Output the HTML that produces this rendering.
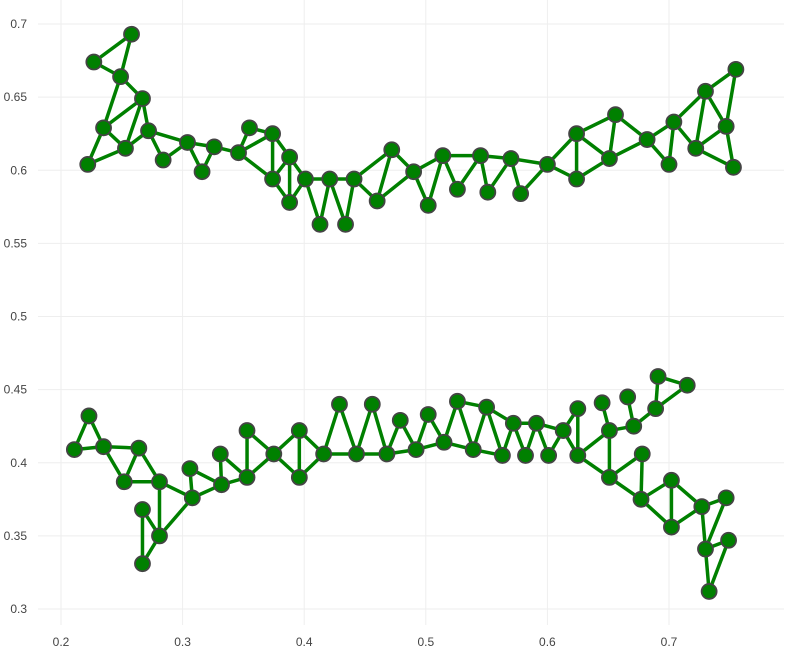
<!DOCTYPE html>
<html><head><meta charset="utf-8"><style>
html,body{margin:0;padding:0;background:#fff;}
svg{display:block;font-family:"Liberation Sans",sans-serif;}
</style></head><body>
<svg id="chart" width="788" height="651" viewBox="0 0 788 651" xmlns="http://www.w3.org/2000/svg">
<g id="grid"></g>
<g id="edges"></g>
<g id="nodes"></g>
<g id="ticks"></g>
</svg>
<script>
const xTicks = [0.2, 0.3, 0.4, 0.5, 0.6, 0.7];
const yTicks = [0.3, 0.35, 0.4, 0.45, 0.5, 0.55, 0.6, 0.65, 0.7];
const xTickLabels = ["0.2","0.3","0.4","0.5","0.6","0.7"];
const yTickLabels = ["0.3","0.35","0.4","0.45","0.5","0.55","0.6","0.65","0.7"];
const upperX = [.227,.258,.249,.267,.235,.253,.272,.222,.284,.304,.316,.326,.346,.355,.374,.374,.388,.388,.401,.413,.421,.434,.441,.46,.472,.49,.502,.514,.526,.545,.551,.57,.578,.6,.624,.624,.651,.656,.682,.7,.704,.73,.722,.747,.753,.755];
const upperY = [.674,.693,.664,.649,.629,.615,.627,.604,.607,.619,.599,.616,.612,.629,.625,.594,.609,.578,.594,.563,.594,.563,.594,.579,.614,.599,.576,.61,.587,.61,.585,.608,.584,.604,.625,.594,.608,.638,.621,.604,.633,.654,.615,.63,.602,.669];
const upperEdges = [[1,2],[1,3],[2,3],[3,5],[3,4],[5,4],[4,6],[4,7],[5,6],[5,8],[8,6],[6,7],[7,10],[7,9],[9,10],[10,11],[10,12],[11,12],[12,13],[13,14],[13,15],[14,15],[13,16],[15,16],[15,17],[16,17],[16,18],[17,18],[17,19],[18,19],[19,20],[19,21],[20,21],[21,22],[21,23],[22,23],[23,24],[23,25],[24,25],[24,26],[25,26],[26,27],[26,28],[27,28],[28,29],[28,30],[29,30],[30,31],[30,32],[31,32],[32,33],[32,34],[33,34],[34,35],[34,36],[35,36],[35,37],[35,38],[36,37],[37,38],[38,39],[37,39],[39,41],[39,40],[40,41],[41,42],[41,43],[42,43],[42,44],[42,46],[43,44],[43,45],[44,46],[44,45]];
const lowerX = [.211,.223,.235,.264,.252,.281,.267,.281,.267,.306,.308,.331,.332,.353,.353,.375,.396,.396,.416,.429,.443,.456,.468,.479,.492,.502,.515,.526,.539,.55,.563,.572,.582,.591,.601,.613,.625,.625,.645,.651,.666,.671,.689,.691,.715,.651,.678,.677,.702,.702,.727,.747,.73,.749,.733];
const lowerY = [.409,.432,.411,.41,.387,.387,.368,.35,.331,.396,.376,.406,.385,.39,.422,.406,.422,.39,.406,.44,.406,.44,.406,.429,.409,.433,.414,.442,.409,.438,.405,.427,.405,.427,.405,.422,.437,.405,.441,.422,.445,.425,.437,.459,.453,.39,.406,.375,.388,.356,.37,.376,.341,.347,.312];
const lowerEdges = [[1,2],[1,3],[2,3],[3,4],[3,5],[4,5],[5,6],[4,6],[6,8],[6,11],[7,8],[7,9],[8,9],[8,11],[10,11],[10,13],[11,13],[12,13],[12,14],[13,14],[14,15],[14,16],[15,16],[16,17],[16,18],[17,18],[17,19],[18,19],[19,20],[19,21],[20,21],[21,22],[21,23],[22,23],[23,24],[23,25],[24,25],[25,26],[25,27],[26,27],[27,28],[27,29],[28,29],[28,30],[29,30],[29,31],[30,31],[30,32],[31,32],[32,33],[32,34],[33,34],[34,35],[34,36],[35,36],[36,37],[36,38],[37,38],[38,40],[38,46],[39,40],[40,42],[40,46],[41,42],[42,43],[43,44],[43,45],[44,45],[46,47],[46,48],[47,48],[48,49],[48,50],[49,50],[49,51],[50,51],[51,52],[51,53],[52,53],[53,54],[53,55],[54,55]];

const NS = "http://www.w3.org/2000/svg";
function sx(v){ return 61 + (v - 0.2) * 1216; }
function sy(v){ return 609 - (v - 0.3) * 1462.5; }
function mk(tag, attrs, parent){ const e = document.createElementNS(NS, tag); for (const k in attrs) e.setAttribute(k, attrs[k]); parent.appendChild(e); return e; }

const grid = document.getElementById('grid');
const ticks = document.getElementById('ticks');
xTicks.forEach((t, i) => {
  const l = mk('line', {x1: sx(t), x2: sx(t), y1: 0, y2: 625, stroke: '#eee', 'stroke-width': 1}, grid);
  
  
  const tx = mk('text', {x: sx(t), y: 646, 'text-anchor': 'middle', 'font-size': 12, fill: '#444'}, ticks);
  tx.textContent = xTickLabels[i];
  
  
});
yTicks.forEach((t, i) => {
  const l = mk('line', {x1: 38, x2: 784, y1: sy(t), y2: sy(t), stroke: '#eee', 'stroke-width': 1}, grid);
  
  
  const tx = mk('text', {x: 27, y: sy(t) + 4, 'text-anchor': 'end', 'font-size': 12, fill: '#444'}, ticks);
  tx.textContent = yTickLabels[i];
  
  
});

const edgesG = document.getElementById('edges');
const nodesG = document.getElementById('nodes');
function drawNet(X, Y, E){
  E.forEach(p => {
    const a = p[0] - 1, b = p[1] - 1;
    const l = mk('line', {x1: sx(X[a]), y1: sy(Y[a]), x2: sx(X[b]), y2: sy(Y[b]), stroke: '#008000', 'stroke-width': 3.5}, edgesG);
    
    
  });
  X.forEach((x, i) => {
    const c = mk('circle', {cx: sx(x), cy: sy(Y[i]), r: 7.5, fill: '#008000', stroke: '#444', 'stroke-width': 1.8}, nodesG);
    
    
  });
}
drawNet(upperX, upperY, upperEdges);
drawNet(lowerX, lowerY, lowerEdges);
</script>
</body></html>
